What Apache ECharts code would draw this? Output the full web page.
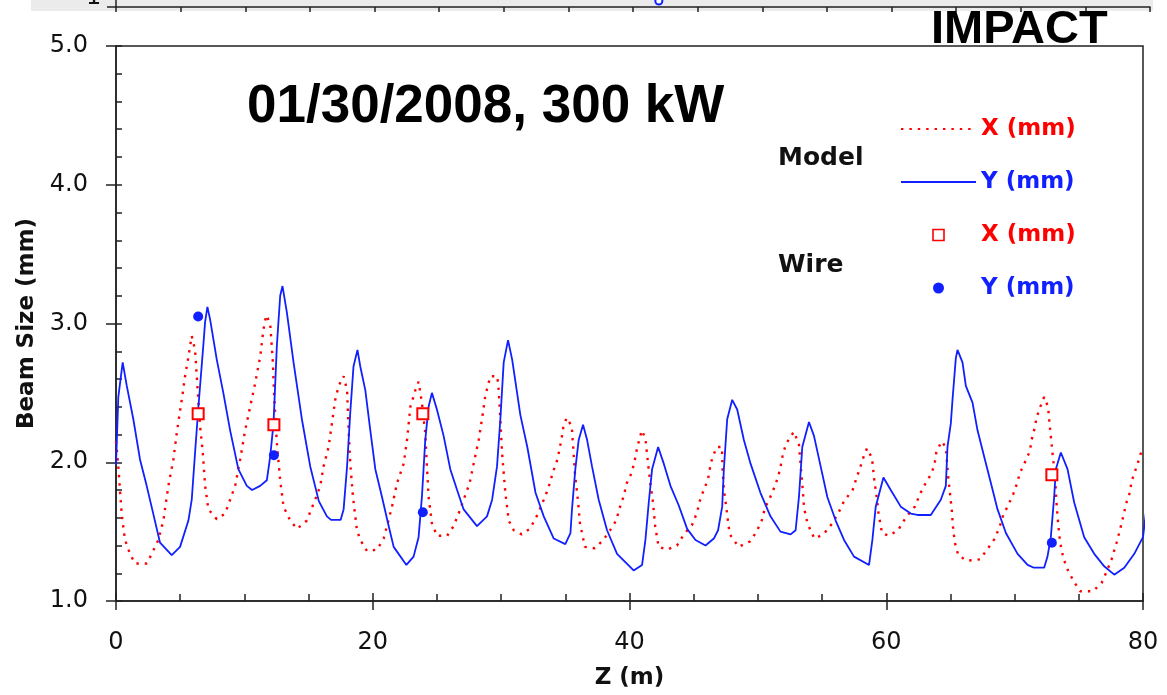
<!DOCTYPE html>
<html>
<head>
<meta charset="utf-8">
<script src="https://cdn.jsdelivr.net/npm/echarts@6/dist/echarts.min.js"></script>
<style>
html,body{margin:0;padding:0;background:#fff;overflow:hidden;}
#chart{width:1167px;height:695px;}
</style>
</head>
<body>
<div id="chart"></div>
<script>
// ---- Data ----
const titleText = '01/30/2008, 300 kW';
const cornerText = 'IMPACT';
const xTicks = [0, 20, 40, 60, 80];
const yTicks = [1.0, 2.0, 3.0, 4.0, 5.0];

// Model X (mm): z positions and beam size
const modelXz = [0,0.18,0.44,0.70,1.09,1.48,2.4,2.78,3.3,3.69,4.08,4.47,4.73,5.12,5.38,5.64,5.9,6.16,6.34,6.55,6.76,6.94,7.2,7.85,8.5,8.89,9.28,9.67,10.06,10.45,10.84,11.23,11.49,11.7,12.01,12.22,12.32,12.53,12.79,13.05,13.57,14.1,14.87,15.2,15.52,15.91,16.17,16.56,16.82,17.08,17.34,17.73,18.0,18.12,18.25,18.46,18.77,19.03,19.55,20.33,20.85,21.5,21.89,22.41,22.67,22.93,23.32,23.57,23.83,24.09,24.22,24.35,24.61,25.0,25.8,26.3,26.69,27.08,27.55,27.86,28.25,28.51,28.77,29.16,29.7,29.81,29.94,30.07,30.33,30.59,30.98,31.6,32.24,32.77,33.15,33.54,33.8,34.0,34.32,34.52,34.71,34.84,35.1,35.5,35.62,35.75,36.0,36.14,36.53,37.3,37.96,38.49,38.96,39.27,39.53,39.79,40.1,40.36,40.52,40.7,40.96,41.24,41.41,41.62,41.83,42.0,42.27,42.93,43.7,44.23,44.88,45.27,45.47,45.78,46.1,46.25,46.44,46.8,47.2,47.25,47.35,47.56,47.69,47.82,48.5,49.4,49.9,50.3,50.55,50.93,51.33,51.59,51.77,51.93,52.18,52.8,53.2,53.34,53.47,53.6,53.86,54.4,55.1,55.8,56.3,56.71,57.38,57.7,57.96,58.2,58.5,58.89,59.07,59.28,59.4,59.67,60.2,60.92,61.58,62.23,62.62,63.01,63.53,63.77,63.9,64.3,64.64,64.82,65.1,65.22,65.35,65.61,66.27,67.3,67.93,68.46,68.85,69.11,69.5,69.89,70.2,70.4,70.8,71.19,71.32,71.57,71.7,71.96,72.3,72.6,72.74,72.87,73.0,73.13,73.26,73.39,73.52,73.65,73.83,74.16,74.55,75.1,76.1,76.77,77.16,77.55,77.94,78.2,78.46,78.71,78.97,79.1,79.36,79.62,79.88,80.4];
const modelXv = [2.15,1.97,1.63,1.44,1.34,1.27,1.27,1.34,1.44,1.58,1.83,2.02,2.21,2.45,2.62,2.76,2.91,2.81,2.55,2.26,2.07,1.83,1.66,1.59,1.63,1.73,1.83,2.02,2.23,2.40,2.57,2.76,2.96,3.06,3.0,2.72,2.48,2.14,1.87,1.68,1.58,1.52,1.58,1.66,1.73,1.83,1.97,2.11,2.28,2.45,2.55,2.62,2.52,2.23,1.99,1.75,1.51,1.44,1.36,1.37,1.45,1.68,1.85,1.99,2.16,2.40,2.52,2.58,2.43,2.21,1.97,1.75,1.56,1.47,1.47,1.54,1.63,1.73,1.85,1.99,2.16,2.31,2.48,2.62,2.62,2.52,2.31,2.07,1.78,1.58,1.51,1.48,1.52,1.61,1.69,1.78,1.85,1.92,2.0,2.08,2.17,2.25,2.32,2.26,2.10,1.92,1.71,1.56,1.39,1.38,1.44,1.51,1.58,1.68,1.75,1.85,1.91,1.99,2.07,2.14,2.23,2.17,2.02,1.85,1.71,1.54,1.39,1.37,1.40,1.48,1.55,1.64,1.72,1.80,1.87,1.95,2.03,2.11,2.11,1.95,1.80,1.66,1.56,1.48,1.39,1.43,1.50,1.58,1.67,1.74,1.83,1.90,1.97,2.05,2.13,2.22,2.13,1.97,1.83,1.67,1.56,1.45,1.48,1.56,1.64,1.72,1.80,1.89,1.96,2.03,2.10,2.03,1.87,1.73,1.63,1.49,1.47,1.51,1.61,1.68,1.77,1.84,1.92,1.99,2.07,2.15,2.11,1.90,1.66,1.51,1.42,1.33,1.29,1.30,1.38,1.45,1.54,1.62,1.69,1.77,1.85,1.92,2.0,2.08,2.16,2.25,2.32,2.39,2.47,2.40,2.26,2.14,2.02,1.92,1.71,1.56,1.44,1.37,1.30,1.22,1.15,1.07,1.07,1.13,1.21,1.30,1.42,1.51,1.61,1.71,1.78,1.86,1.93,2.0,2.08,2.08];

// Model Y (mm)
const modelYz = [0,0.18,0.52,0.84,1.35,1.87,2.39,2.9,3.43,4.34,4.99,5.64,5.9,6.16,6.42,6.8,6.94,7.12,7.33,7.85,8.36,8.89,9.53,10.19,10.6,11.23,11.75,12.01,12.27,12.53,12.79,12.97,13.31,13.83,14.48,15.13,15.8,16.43,16.75,17.5,17.73,18.0,18.25,18.5,18.81,19.03,19.42,19.81,20.2,20.72,21.24,21.63,22.62,23.18,23.57,23.83,24.09,24.35,24.61,25.0,25.52,26.04,26.57,27.08,28.12,28.9,29.3,29.68,29.94,30.2,30.54,30.86,31.5,32.04,32.68,33.32,34.1,35.0,35.4,35.52,35.78,36.04,36.38,36.7,37.08,37.6,38.25,39.03,40.32,40.98,41.24,41.5,41.76,42.23,42.67,43.19,43.83,44.49,45.14,45.92,46.57,46.9,47.22,47.35,47.61,48.0,48.39,48.91,49.43,50.2,50.98,51.76,52.55,52.94,53.2,53.46,53.98,54.37,54.89,55.41,56.06,56.71,57.49,58.66,58.92,59.18,59.78,60.35,61.13,61.91,62.43,63.47,64.25,64.64,64.77,65.03,65.16,65.29,65.42,65.55,65.94,66.2,66.72,67.11,67.63,68.15,68.67,69.32,70.23,71.01,71.5,72.3,72.56,72.82,73.08,73.21,73.6,74.12,74.64,75.42,76.2,76.98,77.76,78.54,79.32,80.0,80.5];
const modelYv = [1.98,2.47,2.72,2.55,2.31,2.02,1.83,1.63,1.42,1.33,1.39,1.58,1.73,2.07,2.40,2.84,3.01,3.12,3.03,2.74,2.50,2.23,1.95,1.83,1.80,1.83,1.87,2.04,2.28,2.84,3.20,3.27,3.08,2.72,2.31,1.97,1.72,1.61,1.585,1.585,1.66,1.97,2.36,2.69,2.81,2.69,2.52,2.23,1.95,1.75,1.54,1.39,1.26,1.32,1.46,1.75,2.16,2.40,2.50,2.38,2.19,1.95,1.80,1.66,1.54,1.61,1.73,1.97,2.31,2.72,2.88,2.74,2.34,2.11,1.78,1.61,1.45,1.41,1.49,1.66,1.95,2.16,2.27,2.16,1.97,1.73,1.51,1.34,1.22,1.26,1.44,1.71,1.95,2.11,1.99,1.83,1.69,1.52,1.44,1.40,1.45,1.51,1.68,1.95,2.31,2.45,2.38,2.16,1.99,1.78,1.61,1.50,1.48,1.51,1.75,2.11,2.29,2.19,1.97,1.75,1.58,1.44,1.32,1.26,1.44,1.68,1.89,1.80,1.68,1.63,1.62,1.62,1.73,1.83,2.11,2.28,2.45,2.60,2.75,2.81,2.72,2.55,2.43,2.23,2.04,1.85,1.66,1.49,1.34,1.26,1.24,1.24,1.32,1.46,1.75,1.95,2.07,1.95,1.71,1.46,1.34,1.25,1.19,1.24,1.34,1.46,1.85];

// Wire measurements
const wireZ = [6.4, 12.3, 23.9, 72.9];
const wireX = [2.35, 2.27, 2.35, 1.91];
const wireY = [3.05, 2.05, 1.64, 1.42];

// Fragment of the chart above (cropped strip at the top)
const stripZ = [42.0];
const stripV = [1.16];

const zip = (a, b) => a.map((v, i) => [v, b[i]]);

const RED = '#ff0000';
const BLUE = '#1020ff';
const AXIS = '#222222';
const SQUARE = 'path://M0 0H10V10H0Z';
const tickFont = { fontFamily: 'DejaVu Sans', fontSize: 24, color: '#111' };

const chart = echarts.init(document.getElementById('chart'), null, { renderer: 'canvas' });

const option = {
  animation: false,
  backgroundColor: '#ffffff',
  title: [
    { text: titleText, left: 247, top: 81, padding: 0,
      textStyle: { fontFamily: 'Liberation Sans', fontWeight: 'bold', fontSize: 53, color: '#000' } },
    { text: cornerText, left: 931, top: 7, padding: 0,
      textStyle: { fontFamily: 'Liberation Sans', fontWeight: 'bold', fontSize: 47, color: '#000' } }
  ],
  graphic: [
    { type: 'rect', z: -10, shape: { x: 31, y: 0, width: 1122, height: 11 }, style: { fill: '#ebebeb' } },
    { type: 'text', left: 86, top: -14, style: { text: '1', font: '24px "DejaVu Sans"', fill: '#111' } },
    { type: 'text', left: 778, top: 146, style: { text: 'Model', font: 'bold 25px "DejaVu Sans"', fill: '#111' } },
    { type: 'text', left: 778, top: 253, style: { text: 'Wire', font: 'bold 25px "DejaVu Sans"', fill: '#111' } }
  ],
  legend: {
    orient: 'vertical',
    left: 900, top: 117, padding: 0,
    itemWidth: 75, itemHeight: 11, itemGap: 29,
    selectedMode: false,
    symbolKeepAspect: true,
    textStyle: { fontFamily: 'DejaVu Sans', fontWeight: 'bold', fontSize: 23, lineHeight: 24 },
    data: [
      { name: 'X (mm)', itemStyle: { opacity: 0 }, textStyle: { color: RED } },
      { name: 'Y (mm)', itemStyle: { opacity: 0 }, textStyle: { color: BLUE } },
      { name: 'X (mm) ', icon: SQUARE, itemStyle: { color: '#ffffff', borderColor: RED, borderWidth: 1.6 }, textStyle: { color: RED } },
      { name: 'Y (mm) ', icon: 'circle', itemStyle: { color: BLUE, opacity: 1 }, textStyle: { color: BLUE } }
    ]
  },
  grid: [
    { left: 116, right: 24, top: 46, bottom: 94, show: true, borderColor: AXIS, borderWidth: 1.5,
      backgroundColor: 'transparent' },
    { left: 116, right: 17, top: -30, height: 37, show: false, outerBoundsMode: 'none' }
  ],
  xAxis: [
    { type: 'value', gridIndex: 0, position: 'bottom', min: xTicks[0], max: xTicks[xTicks.length - 1], interval: 20,
      axisLine: { show: true, lineStyle: { color: AXIS, width: 1.5 } },
      axisTick: { show: true, inside: true, length: 8, lineStyle: { color: AXIS, width: 1.5 } },
      minorTick: { show: true, splitNumber: 4, length: 7, lineStyle: { color: AXIS, width: 1.5 } },
      splitLine: { show: false },
      axisLabel: { show: true, margin: 30, ...tickFont },
      name: 'Z (m)', nameLocation: 'middle', nameGap: 66,
      nameTextStyle: { fontFamily: 'DejaVu Sans', fontWeight: 'bold', fontSize: 23, color: '#111' } },
    { type: 'value', gridIndex: 0, position: 'bottom', min: xTicks[0], max: xTicks[xTicks.length - 1], interval: 20,
      axisLine: { show: false },
      axisTick: { show: true, inside: false, length: 9, lineStyle: { color: AXIS, width: 1.5 } },
      minorTick: { show: false }, splitLine: { show: false }, axisLabel: { show: false } },
    { type: 'value', gridIndex: 1, position: 'bottom', min: 0, max: 80, interval: 5,
      axisLine: { show: true, lineStyle: { color: AXIS, width: 1.5 } },
      axisTick: { show: true, inside: false, length: 5, lineStyle: { color: AXIS, width: 1.5 } },
      splitLine: { show: false }, axisLabel: { show: false } }
  ],
  yAxis: [
    { type: 'value', gridIndex: 0, position: 'left', min: yTicks[0], max: yTicks[yTicks.length - 1], interval: 1,
      axisLine: { show: true, lineStyle: { color: AXIS, width: 1.5 } },
      axisTick: { show: true, inside: true, length: 6, lineStyle: { color: AXIS, width: 1.5 } },
      minorTick: { show: true, splitNumber: 5, length: 6, lineStyle: { color: AXIS, width: 1.5 } },
      splitLine: { show: false },
      axisLabel: { show: true, margin: 28, formatter: v => v.toFixed(1), ...tickFont },
      name: 'Beam Size (mm)', nameLocation: 'middle', nameGap: 76,
      nameTextStyle: { fontFamily: 'DejaVu Sans', fontWeight: 'bold', fontSize: 23, color: '#111' } },
    { type: 'value', gridIndex: 0, position: 'left', min: yTicks[0], max: yTicks[yTicks.length - 1], interval: 1,
      axisLine: { show: false },
      axisTick: { show: true, inside: false, length: 10, lineStyle: { color: AXIS, width: 1.5 } },
      minorTick: { show: false }, splitLine: { show: false }, axisLabel: { show: false } },
    { type: 'value', gridIndex: 1, position: 'left', min: 1, max: 2, interval: 1,
      axisLine: { show: true, lineStyle: { color: AXIS, width: 1.5 } },
      axisTick: { show: true, inside: false, length: 9, lineStyle: { color: AXIS, width: 1.5 } },
      splitLine: { show: false }, axisLabel: { show: false } }
  ],
  series: [
    { name: 'X (mm)', type: 'line', xAxisIndex: 0, yAxisIndex: 0, data: zip(modelXz, modelXv),
      symbol: 'none', clip: false, z: 2,
      itemStyle: { color: RED },
      lineStyle: { color: RED, width: 2.4, type: [2.4, 6] } },
    { name: 'Y (mm)', type: 'line', xAxisIndex: 0, yAxisIndex: 0, data: zip(modelYz, modelYv),
      symbol: 'none', clip: false, z: 3,
      itemStyle: { color: BLUE },
      lineStyle: { color: BLUE, width: 1.8 } },
    { name: 'X (mm) ', type: 'scatter', xAxisIndex: 0, yAxisIndex: 0, data: zip(wireZ, wireX),
      symbol: 'emptyRect', symbolSize: 11, z: 5,
      itemStyle: { color: RED, borderColor: RED, borderWidth: 1.6, opacity: 1 } },
    { name: 'Y (mm) ', type: 'scatter', xAxisIndex: 0, yAxisIndex: 0, data: zip(wireZ, wireY),
      symbol: 'circle', symbolSize: 10, z: 5,
      itemStyle: { color: BLUE, opacity: 1 } },
    { name: 'strip', type: 'scatter', xAxisIndex: 2, yAxisIndex: 2, data: zip(stripZ, stripV),
      symbol: 'emptyCircle', symbolSize: 7, clip: false, z: 1,
      itemStyle: { color: BLUE, borderWidth: 1.5, opacity: 1 } }
  ]
};
chart.setOption(option);
</script>
</body>
</html>
